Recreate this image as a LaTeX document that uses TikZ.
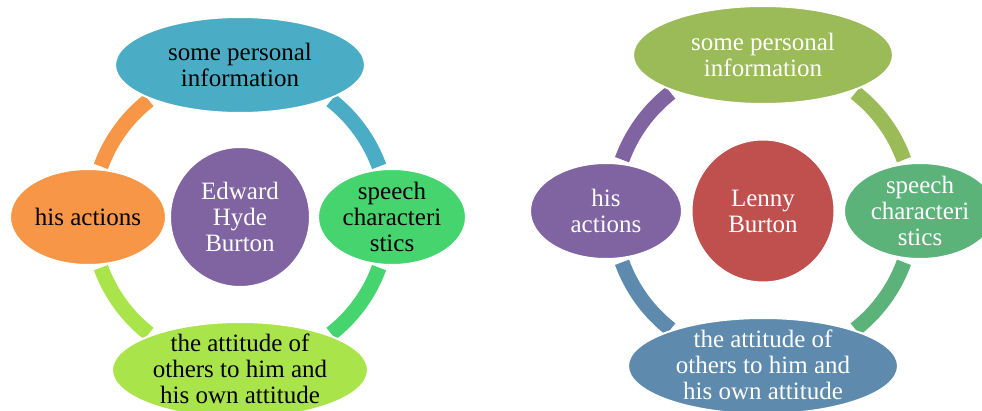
\documentclass[tikz,border=0pt]{standalone}
\usepackage{fontspec}
\setmainfont{Liberation Serif}
\usetikzlibrary{shapes.geometric}
\definecolor{aqua}{HTML}{4BACC6}
\definecolor{orng}{HTML}{F79646}
\definecolor{purp}{HTML}{8064A2}
\definecolor{brgreen}{HTML}{46D46F}
\definecolor{lime}{HTML}{A9E44B}
\definecolor{olive}{HTML}{9BBB59}
\definecolor{redc}{HTML}{C0504D}
\definecolor{sgreen}{HTML}{5BB37A}
\definecolor{steel}{HTML}{5E8BAD}
\tikzset{
  shp/.style={ellipse, draw=white, line width=2pt, inner sep=0pt},
  circ/.style={circle, draw=white, line width=2pt, inner sep=0pt},
  txt/.style={align=center, inner sep=0pt, font=\fontsize{25}{26}\selectfont},
  ring/.style={line width=15pt, line cap=butt},
}
\begin{document}
\begin{tikzpicture}[x=1pt,y=1pt]
\useasboundingbox (0,0) rectangle (982,410);
\clip (0,0) rectangle (982,410);
% ---------------- left diagram ----------------
\coordinate (lc) at (240,193);
\draw[ring, aqua]  ([shift={(52:148)}]lc) arc[start angle=52, end angle=20, radius=148];
\draw[ring, brgreen] ([shift={(-20:148)}]lc) arc[start angle=-20, end angle=-52, radius=148];
\draw[ring, lime] ([shift={(232:148)}]lc) arc[start angle=232, end angle=200, radius=148];
\draw[ring, orng] ([shift={(160:148)}]lc) arc[start angle=160, end angle=128, radius=148];
\node[shp, fill=aqua, minimum width=250pt, minimum height=96pt] (ltop) at (240,345) {};
\node[shp, fill=orng, minimum width=156pt, minimum height=96pt] (lleft) at (88,193) {};
\node[circ, fill=purp, minimum size=140pt] (lcen) at (240,193) {};
\node[shp, fill=brgreen, minimum width=148pt, minimum height=96pt] (lright) at (392,193) {};
\node[shp, fill=lime, minimum width=256pt, minimum height=96pt] (lbot) at (240,40) {};
\node[txt] (ltopt) at (ltop.center) {some personal\\information};
\node[txt] (lleftt) at (lleft.center) {his actions};
\node[txt, text=white] (lcent) at (lcen.center) {Edward\\Hyde\\Burton};
\node[txt] (lrightt) at (lright.center) {speech\\characteri\\stics};
\node[txt] (lbott) at ([yshift=1pt]lbot.center) {the attitude of\\others to him and\\his own attitude};
% ---------------- right diagram ----------------
\coordinate (rc) at (763,199);
\draw[ring, olive] ([shift={(52:150)}]rc) arc[start angle=52, end angle=20, radius=150];
\draw[ring, sgreen] ([shift={(-20:150)}]rc) arc[start angle=-20, end angle=-52, radius=150];
\draw[ring, steel] ([shift={(232:150)}]rc) arc[start angle=232, end angle=200, radius=150];
\draw[ring, purp] ([shift={(160:150)}]rc) arc[start angle=160, end angle=128, radius=150];
\node[shp, fill=olive, minimum width=260pt, minimum height=98pt] (rtop) at (763,355) {};
\node[shp, fill=purp, minimum width=152pt, minimum height=96pt] (rleft) at (606,199) {};
\node[circ, fill=redc, minimum size=143pt] (rcen) at (763,199) {};
\node[shp, fill=sgreen, minimum width=152pt, minimum height=96pt] (rright) at (920,199) {};
\node[shp, fill=steel, minimum width=270pt, minimum height=96pt] (rbot) at (763,44) {};
\node[txt, text=white] (rtopt) at (rtop.center) {some personal\\information};
\node[txt, text=white] (rleftt) at (rleft.center) {his\\actions};
\node[txt, text=white] (rcent) at (rcen.center) {Lenny\\Burton};
\node[txt, text=white] (rrightt) at (rright.center) {speech\\characteri\\stics};
\node[txt, text=white] (rbott) at ([yshift=1pt]rbot.center) {the attitude of\\others to him and\\his own attitude};
\end{tikzpicture}
\end{document}
